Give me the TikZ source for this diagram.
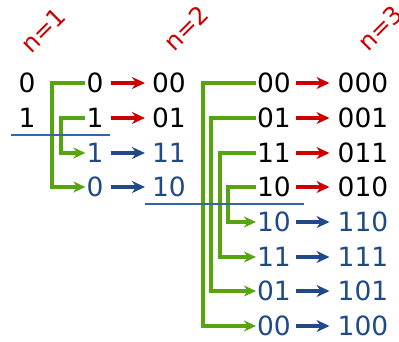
\documentclass[tikz,border=0pt]{standalone}
\usepackage{fontspec}
\setmainfont{DejaVu Sans}
\usetikzlibrary{arrows.meta}
\definecolor{tred}{RGB}{204,0,0}
\definecolor{tblue}{RGB}{32,74,135}
\definecolor{lblue}{RGB}{52,101,164}
\definecolor{tgreen}{RGB}{86,164,14}
\begin{document}
\begin{tikzpicture}[x=1pt,y=-1pt,
  lbl/.style={inner sep=0pt,font=\fontsize{26.5}{26.5}\selectfont},
  blk/.style={lbl,text=black},
  blu/.style={lbl,text=tblue},
  nlab/.style={inner sep=0pt,text=tred,rotate=45,font=\fontsize{24.5}{24.5}\selectfont},
  redarr/.style={draw=tred,line width=3.6pt,-{Stealth[length=13pt,width=12pt]}},
  bluarr/.style={draw=tblue,line width=3.6pt,-{Stealth[length=13pt,width=12pt]}},
  grn/.style={draw=tgreen,line width=3.2pt,-{Stealth[length=12pt,width=11pt]},shorten >=1pt,shorten <=1pt},
  sep/.style={draw=lblue,line width=2pt}]
\useasboundingbox (0,0) rectangle (399,341);
% labels
\node[nlab] (n1) at (43,30) {n=1};
\node[nlab] (n2) at (186,28) {n=2};
\node[nlab] (n3) at (380,28) {n=3};
% column 1
\node[blk] (a1) at (27,83) {0};
\node[blk] (a2) at (27,118) {1};
% column 2
\node[blk] (b1) at (95,83) {0};
\node[blk] (b2) at (95,118) {1};
\node[blu] (b3) at (95,153) {1};
\node[blu] (b4) at (95,187) {0};
% column 3
\node[blk] (c1) at (169,83) {00};
\node[blk] (c2) at (169,118) {01};
\node[blu] (c3) at (169,153) {11};
\node[blu] (c4) at (169,187) {10};
% column 4
\node[blk] (d1) at (274,83) {00};
\node[blk] (d2) at (274,118) {01};
\node[blk] (d3) at (274,153) {11};
\node[blk] (d4) at (274,187) {10};
\node[blu] (d5) at (274,222) {10};
\node[blu] (d6) at (274,257) {11};
\node[blu] (d7) at (274,291) {01};
\node[blu] (d8) at (274,326) {00};
% column 5
\node[blk] (e1) at (363,83) {000};
\node[blk] (e2) at (363,118) {001};
\node[blk] (e3) at (363,153) {011};
\node[blk] (e4) at (363,187) {010};
\node[blu] (e5) at (363,222) {110};
\node[blu] (e6) at (363,257) {111};
\node[blu] (e7) at (363,291) {101};
\node[blu] (e8) at (363,326) {100};
% separators
\coordinate (s1a) at (11,135);
\coordinate (s1b) at (110,135);
\coordinate (s2a) at (145,204);
\coordinate (s2b) at (304,204);
% vertical guides
\coordinate (v1) at (52,0);
\coordinate (v2) at (61,0);
\coordinate (w1) at (203,0);
\coordinate (w2) at (211,0);
\coordinate (w3) at (220,0);
\coordinate (w4) at (228,0);
% green reflections level 1
\draw[grn] (b1.west) -- (b1.west -| v1) -- (b4.west -| v1) -- (b4.west);
\draw[grn] (b2.west) -- (b2.west -| v2) -- (b3.west -| v2) -- (b3.west);
% green reflections level 2
\draw[grn] (d1.west) -- (d1.west -| w1) -- (d8.west -| w1) -- (d8.west);
\draw[grn] (d2.west) -- (d2.west -| w2) -- (d7.west -| w2) -- (d7.west);
\draw[grn] (d3.west) -- (d3.west -| w3) -- (d6.west -| w3) -- (d6.west);
\draw[grn] (d4.west) -- (d4.west -| w4) -- (d5.west -| w4) -- (d5.west);
% separators drawn over
\draw[sep] (s1a) -- (s1b);
\draw[sep] (s2a) -- (s2b);
% prefix arrows level 1
\draw[redarr,shorten <=7pt,shorten >=7pt] (b1) -- (c1);
\draw[redarr,shorten <=7pt,shorten >=7pt] (b2) -- (c2);
\draw[bluarr,shorten <=7pt,shorten >=7pt] (b3) -- (c3);
\draw[bluarr,shorten <=7pt,shorten >=7pt] (b4) -- (c4);
% prefix arrows level 2
\foreach \i in {1,2,3,4}{\draw[redarr,shorten <=5pt,shorten >=8pt] (d\i) -- (e\i);}
\foreach \i in {5,6,7,8}{\draw[bluarr,shorten <=5pt,shorten >=8pt] (d\i) -- (e\i);}
\end{tikzpicture}
\end{document}
